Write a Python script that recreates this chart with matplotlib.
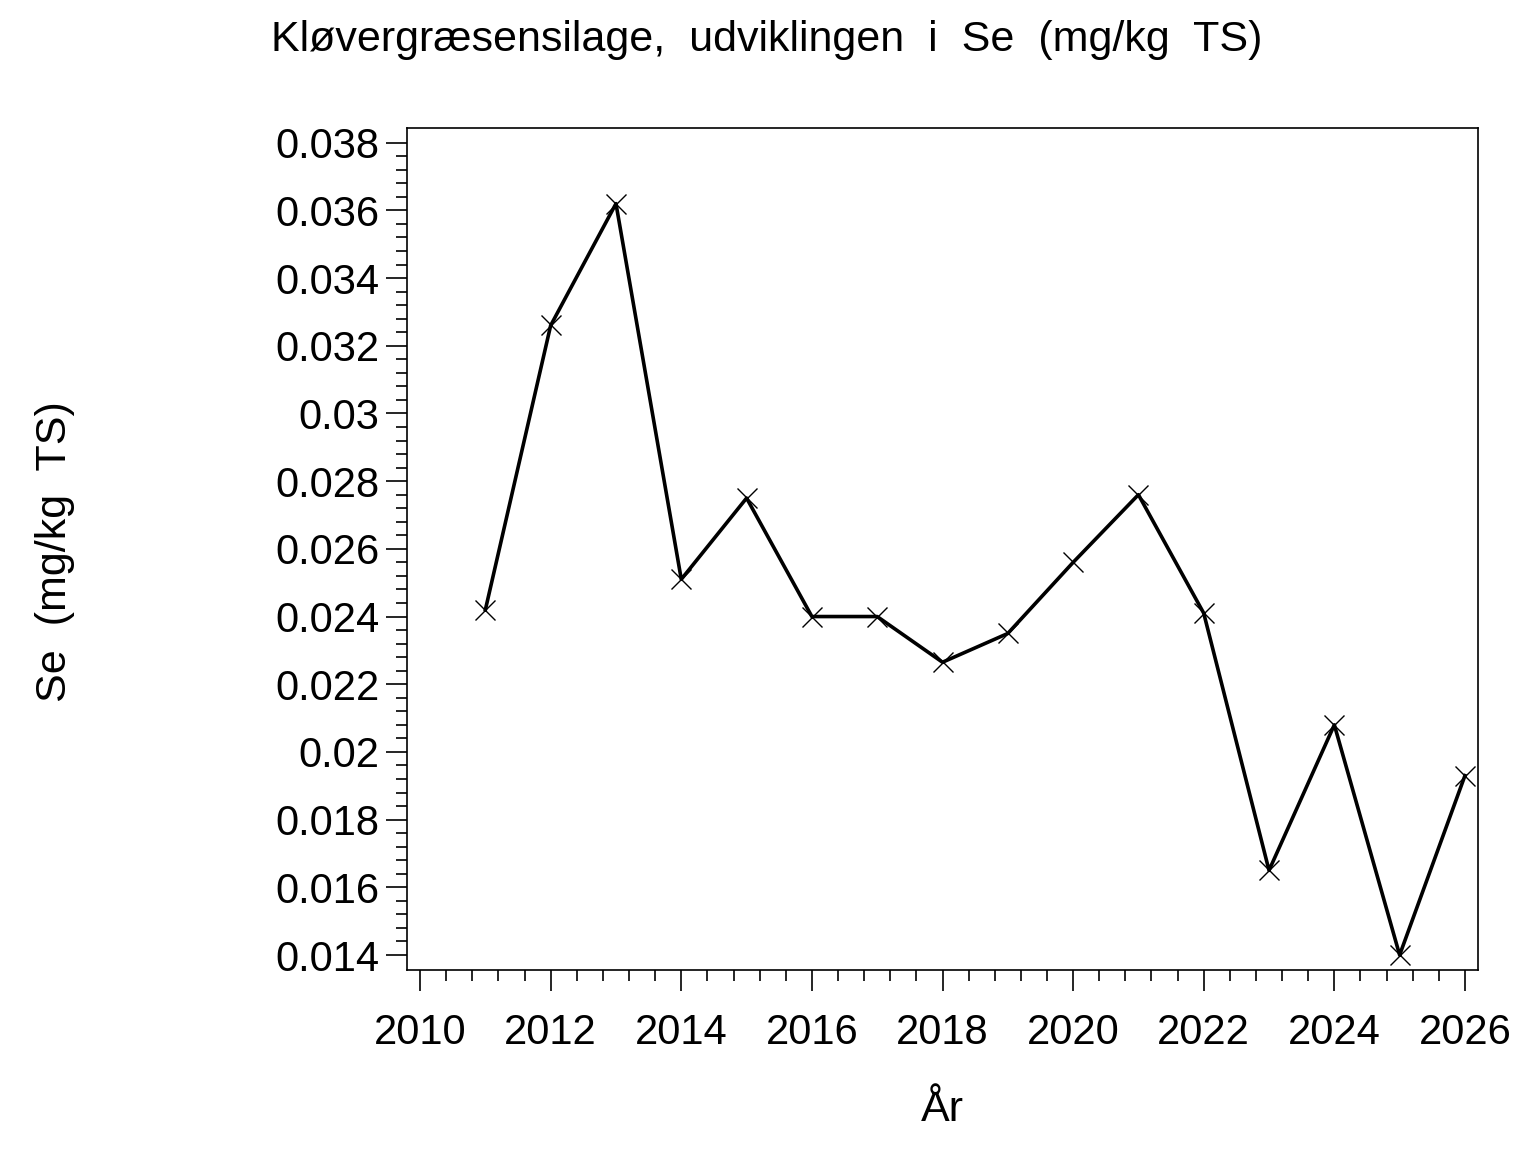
import matplotlib
matplotlib.use("Agg")
import matplotlib.pyplot as plt
import numpy as np
from matplotlib.ticker import MultipleLocator, FixedLocator, FuncFormatter

years = [2011, 2012, 2013, 2014, 2015, 2016, 2017, 2018, 2019, 2020, 2021, 2022, 2023, 2024, 2025, 2026]
se_values = [0.0242, 0.0326, 0.0362, 0.0251, 0.0275, 0.0240, 0.0240, 0.02265, 0.0235, 0.0256, 0.0276, 0.0241, 0.0165, 0.0208, 0.0140, 0.0193]

title = "Kløvergræsensilage,  udviklingen  i  Se  (mg/kg  TS)"
ylabel = "Se  (mg/kg  TS)"
xlabel = "År"

plt.rcParams['font.family'] = ['Liberation Sans', 'DejaVu Sans']

fig = plt.figure(figsize=(15.36, 11.52), dpi=100)
ax = fig.add_axes([407/1536, 1-970/1152, (1478-407)/1536, (970-128)/1152])

ax.plot(years, se_values, color='black', linewidth=2.6, marker='x', markersize=14,
        markeredgewidth=1.0)

ax.set_xlim(2009.80, 2026.20)
ax.set_ylim(0.013557, 0.038434)

ax.xaxis.set_major_locator(MultipleLocator(2))
ax.xaxis.set_minor_locator(FixedLocator(np.arange(2010, 2026.01, 0.4)))
ax.yaxis.set_major_locator(MultipleLocator(0.002))
ax.yaxis.set_minor_locator(FixedLocator(np.arange(0.014, 0.03801, 0.0004)))

def yfmt(v, pos):
    s = f"{v:.3f}"
    s = s.rstrip('0')
    if s.endswith('.'):
        s = s[:-1]
    return s
ax.yaxis.set_major_formatter(FuncFormatter(yfmt))

ax.tick_params(axis='both', which='major', direction='out', length=15, width=1.2,
               labelsize=30, pad=5)
ax.tick_params(axis='both', which='minor', direction='out', length=8, width=1.2)
ax.tick_params(axis='x', which='major', pad=16)
for sp in ax.spines.values():
    sp.set_linewidth(1.2)

fig.text(767/1536, 1-40/1152, title, ha='center', va='center', fontsize=31)
fig.text(55/1536, 1-552/1152, ylabel, ha='center', va='center', rotation=90, fontsize=31)
fig.text(942/1536, 1-1110/1152, xlabel, ha='center', va='center', fontsize=31)

fig.savefig("out.png", dpi=100)
